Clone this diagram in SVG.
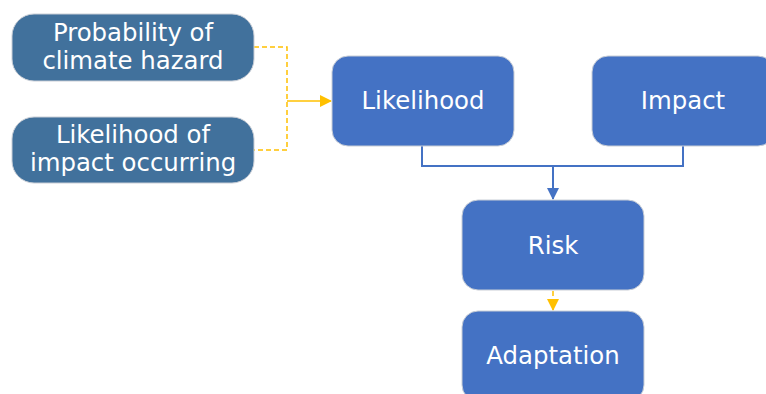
<svg xmlns="http://www.w3.org/2000/svg" width="766" height="394" viewBox="0 0 766 394">
<defs>
<style>
.dark{fill:#41719C;stroke:#C9CED6;stroke-width:1}
.main{fill:#4472C4;stroke:#C9CED6;stroke-width:1}
text{font-family:"DejaVu Sans",Verdana,sans-serif;font-size:24.4px;fill:#FFFFFF;text-anchor:middle}
.dash{fill:none;stroke:#FFC000;stroke-width:1.5;stroke-dasharray:5,3}
.solid{fill:none;stroke:#FFC000;stroke-width:1.5}
.blue{fill:none;stroke:#4472C4;stroke-width:2}
</style>
<marker id="ao" markerWidth="12" markerHeight="12" refX="11" refY="6" orient="auto" markerUnits="userSpaceOnUse"><path d="M0,0 L12,6 L0,12 Z" fill="#FFC000"/></marker>
<marker id="ab" markerWidth="12" markerHeight="12" refX="11" refY="6" orient="auto" markerUnits="userSpaceOnUse"><path d="M0,0 L12,6 L0,12 Z" fill="#4472C4"/></marker>
</defs>
<rect width="766" height="394" fill="#FFFFFF"/>
<g id="connectors">
<path class="dash" d="M254,47 H287 V150 H254"/>
<path class="solid" d="M287,101 H331" marker-end="url(#ao)"/>
<path class="blue" d="M422,146 V166 H683 V146"/>
<path class="blue" d="M553,166 V199" marker-end="url(#ab)"/>
<path class="dash" d="M553,291 V310" marker-end="url(#ao)"/>
</g>
<g id="probability">
<rect class="dark" x="12" y="14" width="242" height="67" rx="22"/>
<text x="133" y="41">Probability of</text>
<text x="133" y="69">climate hazard</text>
</g>
<g id="likelihood-of">
<rect class="dark" x="12" y="117" width="242" height="66" rx="22"/>
<text x="133" y="143">Likelihood of</text>
<text x="133" y="171">impact occurring</text>
</g>
<g id="likelihood">
<rect class="main" x="332" y="56" width="182" height="90" rx="16"/>
<text x="423" y="109">Likelihood</text>
</g>
<g id="impact">
<rect class="main" x="592" y="56" width="182" height="90" rx="16"/>
<text x="683" y="109">Impact</text>
</g>
<g id="risk">
<rect class="main" x="462" y="200" width="182" height="90" rx="16"/>
<text x="553" y="254">Risk</text>
</g>
<g id="adaptation">
<rect class="main" x="462" y="311" width="182" height="90" rx="16"/>
<text x="553" y="364">Adaptation</text>
</g>
</svg>
